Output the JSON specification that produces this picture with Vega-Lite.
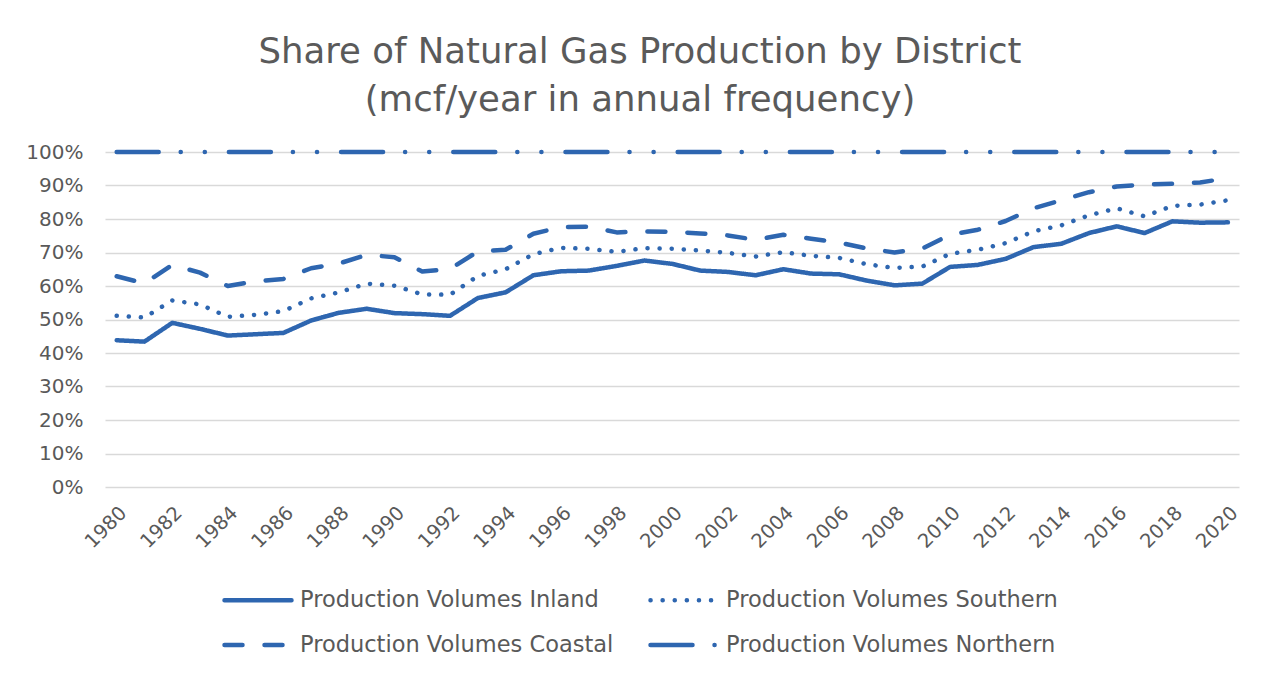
{
  "$schema": "https://vega.github.io/schema/vega-lite/v6.json",
  "width": 1134,
  "height": 335,
  "autosize": {"type": "none"},
  "padding": {"left": 105, "top": 152, "right": 34, "bottom": 189},
  "background": "white",
  "title": {
    "text": ["Share of Natural Gas Production by District", "(mcf/year in annual frequency)"],
    "font": "DejaVu Sans",
    "fontSize": 35.5,
    "fontWeight": "normal",
    "color": "#5a5a5a",
    "anchor": "middle",
    "dx": -32,
    "lineHeight": 48,
    "offset": 24
  },
  "data": {
    "values": [
      {"year": 1980, "series": "Production Volumes Inland", "share": 0.438},
      {"year": 1981, "series": "Production Volumes Inland", "share": 0.434},
      {"year": 1982, "series": "Production Volumes Inland", "share": 0.490},
      {"year": 1983, "series": "Production Volumes Inland", "share": 0.472},
      {"year": 1984, "series": "Production Volumes Inland", "share": 0.452},
      {"year": 1985, "series": "Production Volumes Inland", "share": 0.456},
      {"year": 1986, "series": "Production Volumes Inland", "share": 0.460},
      {"year": 1987, "series": "Production Volumes Inland", "share": 0.497},
      {"year": 1988, "series": "Production Volumes Inland", "share": 0.520},
      {"year": 1989, "series": "Production Volumes Inland", "share": 0.532},
      {"year": 1990, "series": "Production Volumes Inland", "share": 0.519},
      {"year": 1991, "series": "Production Volumes Inland", "share": 0.516},
      {"year": 1992, "series": "Production Volumes Inland", "share": 0.511},
      {"year": 1993, "series": "Production Volumes Inland", "share": 0.564},
      {"year": 1994, "series": "Production Volumes Inland", "share": 0.581},
      {"year": 1995, "series": "Production Volumes Inland", "share": 0.632},
      {"year": 1996, "series": "Production Volumes Inland", "share": 0.644},
      {"year": 1997, "series": "Production Volumes Inland", "share": 0.646},
      {"year": 1998, "series": "Production Volumes Inland", "share": 0.660},
      {"year": 1999, "series": "Production Volumes Inland", "share": 0.676},
      {"year": 2000, "series": "Production Volumes Inland", "share": 0.666},
      {"year": 2001, "series": "Production Volumes Inland", "share": 0.646},
      {"year": 2002, "series": "Production Volumes Inland", "share": 0.642},
      {"year": 2003, "series": "Production Volumes Inland", "share": 0.632},
      {"year": 2004, "series": "Production Volumes Inland", "share": 0.650},
      {"year": 2005, "series": "Production Volumes Inland", "share": 0.637},
      {"year": 2006, "series": "Production Volumes Inland", "share": 0.635},
      {"year": 2007, "series": "Production Volumes Inland", "share": 0.616},
      {"year": 2008, "series": "Production Volumes Inland", "share": 0.602},
      {"year": 2009, "series": "Production Volumes Inland", "share": 0.607},
      {"year": 2010, "series": "Production Volumes Inland", "share": 0.657},
      {"year": 2011, "series": "Production Volumes Inland", "share": 0.663},
      {"year": 2012, "series": "Production Volumes Inland", "share": 0.681},
      {"year": 2013, "series": "Production Volumes Inland", "share": 0.716},
      {"year": 2014, "series": "Production Volumes Inland", "share": 0.726},
      {"year": 2015, "series": "Production Volumes Inland", "share": 0.758},
      {"year": 2016, "series": "Production Volumes Inland", "share": 0.778},
      {"year": 2017, "series": "Production Volumes Inland", "share": 0.758},
      {"year": 2018, "series": "Production Volumes Inland", "share": 0.793},
      {"year": 2019, "series": "Production Volumes Inland", "share": 0.789},
      {"year": 2020, "series": "Production Volumes Inland", "share": 0.790},
      {"year": 1980, "series": "Production Volumes Southern", "share": 0.511},
      {"year": 1981, "series": "Production Volumes Southern", "share": 0.506},
      {"year": 1982, "series": "Production Volumes Southern", "share": 0.557},
      {"year": 1983, "series": "Production Volumes Southern", "share": 0.545},
      {"year": 1984, "series": "Production Volumes Southern", "share": 0.508},
      {"year": 1985, "series": "Production Volumes Southern", "share": 0.514},
      {"year": 1986, "series": "Production Volumes Southern", "share": 0.525},
      {"year": 1987, "series": "Production Volumes Southern", "share": 0.563},
      {"year": 1988, "series": "Production Volumes Southern", "share": 0.581},
      {"year": 1989, "series": "Production Volumes Southern", "share": 0.607},
      {"year": 1990, "series": "Production Volumes Southern", "share": 0.601},
      {"year": 1991, "series": "Production Volumes Southern", "share": 0.575},
      {"year": 1992, "series": "Production Volumes Southern", "share": 0.574},
      {"year": 1993, "series": "Production Volumes Southern", "share": 0.630},
      {"year": 1994, "series": "Production Volumes Southern", "share": 0.650},
      {"year": 1995, "series": "Production Volumes Southern", "share": 0.695},
      {"year": 1996, "series": "Production Volumes Southern", "share": 0.714},
      {"year": 1997, "series": "Production Volumes Southern", "share": 0.711},
      {"year": 1998, "series": "Production Volumes Southern", "share": 0.702},
      {"year": 1999, "series": "Production Volumes Southern", "share": 0.713},
      {"year": 2000, "series": "Production Volumes Southern", "share": 0.711},
      {"year": 2001, "series": "Production Volumes Southern", "share": 0.706},
      {"year": 2002, "series": "Production Volumes Southern", "share": 0.699},
      {"year": 2003, "series": "Production Volumes Southern", "share": 0.688},
      {"year": 2004, "series": "Production Volumes Southern", "share": 0.701},
      {"year": 2005, "series": "Production Volumes Southern", "share": 0.690},
      {"year": 2006, "series": "Production Volumes Southern", "share": 0.684},
      {"year": 2007, "series": "Production Volumes Southern", "share": 0.665},
      {"year": 2008, "series": "Production Volumes Southern", "share": 0.654},
      {"year": 2009, "series": "Production Volumes Southern", "share": 0.658},
      {"year": 2010, "series": "Production Volumes Southern", "share": 0.696},
      {"year": 2011, "series": "Production Volumes Southern", "share": 0.708},
      {"year": 2012, "series": "Production Volumes Southern", "share": 0.728},
      {"year": 2013, "series": "Production Volumes Southern", "share": 0.763},
      {"year": 2014, "series": "Production Volumes Southern", "share": 0.781},
      {"year": 2015, "series": "Production Volumes Southern", "share": 0.811},
      {"year": 2016, "series": "Production Volumes Southern", "share": 0.832},
      {"year": 2017, "series": "Production Volumes Southern", "share": 0.808},
      {"year": 2018, "series": "Production Volumes Southern", "share": 0.839},
      {"year": 2019, "series": "Production Volumes Southern", "share": 0.843},
      {"year": 2020, "series": "Production Volumes Southern", "share": 0.856},
      {"year": 1980, "series": "Production Volumes Coastal", "share": 0.629},
      {"year": 1981, "series": "Production Volumes Coastal", "share": 0.608},
      {"year": 1982, "series": "Production Volumes Coastal", "share": 0.663},
      {"year": 1983, "series": "Production Volumes Coastal", "share": 0.640},
      {"year": 1984, "series": "Production Volumes Coastal", "share": 0.600},
      {"year": 1985, "series": "Production Volumes Coastal", "share": 0.614},
      {"year": 1986, "series": "Production Volumes Coastal", "share": 0.621},
      {"year": 1987, "series": "Production Volumes Coastal", "share": 0.653},
      {"year": 1988, "series": "Production Volumes Coastal", "share": 0.667},
      {"year": 1989, "series": "Production Volumes Coastal", "share": 0.693},
      {"year": 1990, "series": "Production Volumes Coastal", "share": 0.686},
      {"year": 1991, "series": "Production Volumes Coastal", "share": 0.643},
      {"year": 1992, "series": "Production Volumes Coastal", "share": 0.651},
      {"year": 1993, "series": "Production Volumes Coastal", "share": 0.703},
      {"year": 1994, "series": "Production Volumes Coastal", "share": 0.708},
      {"year": 1995, "series": "Production Volumes Coastal", "share": 0.756},
      {"year": 1996, "series": "Production Volumes Coastal", "share": 0.776},
      {"year": 1997, "series": "Production Volumes Coastal", "share": 0.777},
      {"year": 1998, "series": "Production Volumes Coastal", "share": 0.760},
      {"year": 1999, "series": "Production Volumes Coastal", "share": 0.763},
      {"year": 2000, "series": "Production Volumes Coastal", "share": 0.762},
      {"year": 2001, "series": "Production Volumes Coastal", "share": 0.757},
      {"year": 2002, "series": "Production Volumes Coastal", "share": 0.751},
      {"year": 2003, "series": "Production Volumes Coastal", "share": 0.738},
      {"year": 2004, "series": "Production Volumes Coastal", "share": 0.753},
      {"year": 2005, "series": "Production Volumes Coastal", "share": 0.741},
      {"year": 2006, "series": "Production Volumes Coastal", "share": 0.730},
      {"year": 2007, "series": "Production Volumes Coastal", "share": 0.712},
      {"year": 2008, "series": "Production Volumes Coastal", "share": 0.700},
      {"year": 2009, "series": "Production Volumes Coastal", "share": 0.712},
      {"year": 2010, "series": "Production Volumes Coastal", "share": 0.753},
      {"year": 2011, "series": "Production Volumes Coastal", "share": 0.768},
      {"year": 2012, "series": "Production Volumes Coastal", "share": 0.794},
      {"year": 2013, "series": "Production Volumes Coastal", "share": 0.832},
      {"year": 2014, "series": "Production Volumes Coastal", "share": 0.856},
      {"year": 2015, "series": "Production Volumes Coastal", "share": 0.880},
      {"year": 2016, "series": "Production Volumes Coastal", "share": 0.897},
      {"year": 2017, "series": "Production Volumes Coastal", "share": 0.903},
      {"year": 2018, "series": "Production Volumes Coastal", "share": 0.905},
      {"year": 2019, "series": "Production Volumes Coastal", "share": 0.909},
      {"year": 2020, "series": "Production Volumes Coastal", "share": 0.922},
      {"year": 1980, "series": "Production Volumes Northern", "share": 1.0},
      {"year": 1981, "series": "Production Volumes Northern", "share": 1.0},
      {"year": 1982, "series": "Production Volumes Northern", "share": 1.0},
      {"year": 1983, "series": "Production Volumes Northern", "share": 1.0},
      {"year": 1984, "series": "Production Volumes Northern", "share": 1.0},
      {"year": 1985, "series": "Production Volumes Northern", "share": 1.0},
      {"year": 1986, "series": "Production Volumes Northern", "share": 1.0},
      {"year": 1987, "series": "Production Volumes Northern", "share": 1.0},
      {"year": 1988, "series": "Production Volumes Northern", "share": 1.0},
      {"year": 1989, "series": "Production Volumes Northern", "share": 1.0},
      {"year": 1990, "series": "Production Volumes Northern", "share": 1.0},
      {"year": 1991, "series": "Production Volumes Northern", "share": 1.0},
      {"year": 1992, "series": "Production Volumes Northern", "share": 1.0},
      {"year": 1993, "series": "Production Volumes Northern", "share": 1.0},
      {"year": 1994, "series": "Production Volumes Northern", "share": 1.0},
      {"year": 1995, "series": "Production Volumes Northern", "share": 1.0},
      {"year": 1996, "series": "Production Volumes Northern", "share": 1.0},
      {"year": 1997, "series": "Production Volumes Northern", "share": 1.0},
      {"year": 1998, "series": "Production Volumes Northern", "share": 1.0},
      {"year": 1999, "series": "Production Volumes Northern", "share": 1.0},
      {"year": 2000, "series": "Production Volumes Northern", "share": 1.0},
      {"year": 2001, "series": "Production Volumes Northern", "share": 1.0},
      {"year": 2002, "series": "Production Volumes Northern", "share": 1.0},
      {"year": 2003, "series": "Production Volumes Northern", "share": 1.0},
      {"year": 2004, "series": "Production Volumes Northern", "share": 1.0},
      {"year": 2005, "series": "Production Volumes Northern", "share": 1.0},
      {"year": 2006, "series": "Production Volumes Northern", "share": 1.0},
      {"year": 2007, "series": "Production Volumes Northern", "share": 1.0},
      {"year": 2008, "series": "Production Volumes Northern", "share": 1.0},
      {"year": 2009, "series": "Production Volumes Northern", "share": 1.0},
      {"year": 2010, "series": "Production Volumes Northern", "share": 1.0},
      {"year": 2011, "series": "Production Volumes Northern", "share": 1.0},
      {"year": 2012, "series": "Production Volumes Northern", "share": 1.0},
      {"year": 2013, "series": "Production Volumes Northern", "share": 1.0},
      {"year": 2014, "series": "Production Volumes Northern", "share": 1.0},
      {"year": 2015, "series": "Production Volumes Northern", "share": 1.0},
      {"year": 2016, "series": "Production Volumes Northern", "share": 1.0},
      {"year": 2017, "series": "Production Volumes Northern", "share": 1.0},
      {"year": 2018, "series": "Production Volumes Northern", "share": 1.0},
      {"year": 2019, "series": "Production Volumes Northern", "share": 1.0},
      {"year": 2020, "series": "Production Volumes Northern", "share": 1.0}
    ]
  },
  "mark": {
    "type": "line",
    "color": "#2e66b0",
    "strokeWidth": 4.5,
    "strokeCap": "round",
    "strokeJoin": "round"
  },
  "encoding": {
    "x": {
      "field": "year",
      "type": "quantitative",
      "scale": {"domain": [1979.58, 2020.4], "nice": false, "zero": false},
      "axis": {
        "title": null,
        "values": [1980, 1982, 1984, 1986, 1988, 1990, 1992, 1994, 1996, 1998, 2000, 2002, 2004, 2006, 2008, 2010, 2012, 2014, 2016, 2018, 2020],
        "format": "d",
        "labelAngle": -45,
        "labelFont": "DejaVu Sans",
        "labelFontSize": 19.5,
        "labelColor": "#595959",
        "labelPadding": 16,
        "grid": false,
        "domain": false,
        "ticks": false
      }
    },
    "y": {
      "field": "share",
      "type": "quantitative",
      "scale": {"domain": [0, 1], "nice": false},
      "axis": {
        "title": null,
        "values": [0, 0.1, 0.2, 0.3, 0.4, 0.5, 0.6, 0.7, 0.8, 0.9, 1.0],
        "format": ".0%",
        "labelFont": "DejaVu Sans",
        "labelFontSize": 20,
        "labelColor": "#595959",
        "labelPadding": 22,
        "grid": true,
        "gridColor": "#d9d9d9",
        "gridWidth": 1.5,
        "domain": false,
        "ticks": false
      }
    },
    "strokeDash": {
      "field": "series",
      "type": "nominal",
      "scale": {
        "domain": ["Production Volumes Inland", "Production Volumes Coastal", "Production Volumes Southern", "Production Volumes Northern"],
        "range": [[1, 0], [18, 22], [0.1, 12], [42, 22, 0.1, 24, 0.1, 24]]
      },
      "legend": {
        "title": null,
        "orient": "none",
        "legendX": 117,
        "legendY": 437,
        "columns": 2,
        "columnPadding": 34,
        "rowPadding": 22,
        "clipHeight": 22,
        "padding": 0,
        "symbolType": "stroke",
        "symbolSize": 4489,
        "symbolStrokeWidth": 4.5,
        "symbolStrokeColor": "#2e66b0",
        "labelFont": "DejaVu Sans",
        "labelFontSize": 22.5,
        "labelColor": "#595959",
        "labelOffset": 6,
        "labelLimit": 500,
        "encode": {"symbols": {"update": {"strokeCap": {"value": "round"}}}}
      }
    }
  },
  "config": {"view": {"stroke": null}}
}
